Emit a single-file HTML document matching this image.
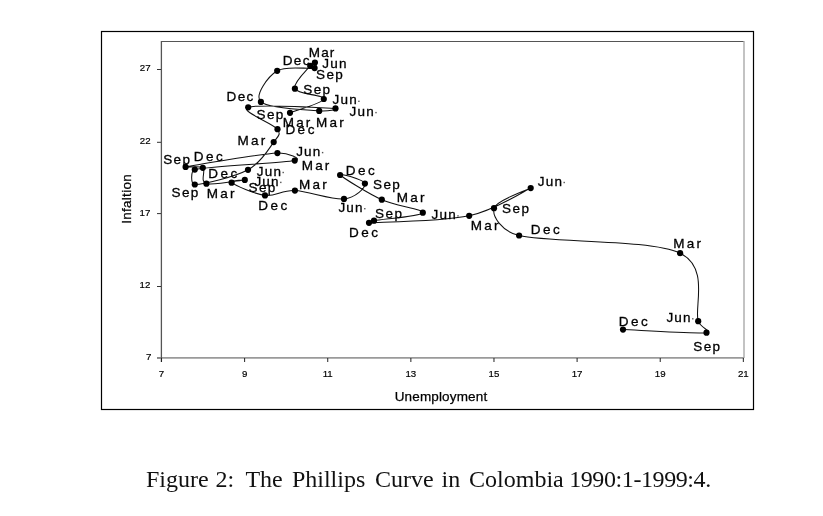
<!DOCTYPE html>
<html><head><meta charset="utf-8"><style>
html,body{margin:0;padding:0;background:#fff;width:823px;height:516px;overflow:hidden}
svg{position:absolute;left:0;top:0;will-change:transform}
.lb{font-family:"Liberation Sans",sans-serif;font-size:13.5px;fill:#000;stroke:#000;stroke-width:0.3px}
.tk{font-family:"Liberation Sans",sans-serif;font-size:9.7px;fill:#000;stroke:#000;stroke-width:0.2px}
.ax{font-family:"Liberation Sans",sans-serif;font-size:13.5px;fill:#000;stroke:#000;stroke-width:0.25px}
.cap{font-family:"Liberation Serif",serif;font-size:24px;fill:#111}
</style></head><body>
<svg width="823" height="516" viewBox="0 0 823 516">

<rect x="101.5" y="31.5" width="652" height="378" fill="none" stroke="#000" stroke-width="1.2"/>
<line x1="161" y1="41.5" x2="744" y2="41.5" stroke="#555" stroke-width="1.2"/>
<line x1="744.0" y1="41" x2="744.0" y2="358" stroke="#aaa" stroke-width="1.4"/>
<line x1="157" y1="357.9" x2="744" y2="357.9" stroke="#9a9a9a" stroke-width="1.8"/>
<line x1="161.4" y1="41" x2="161.4" y2="362" stroke="#555" stroke-width="1.3"/>
<line x1="157" y1="357.90" x2="161" y2="357.90" stroke="#888" stroke-width="1.8"/>
<text class="tk" x="151.30" y="359.80" text-anchor="end">7</text>
<line x1="157" y1="286.50" x2="161" y2="286.50" stroke="#333" stroke-width="1"/>
<text class="tk" x="150.40" y="288.00" text-anchor="end">12</text>
<line x1="157" y1="213.60" x2="161" y2="213.60" stroke="#333" stroke-width="1"/>
<text class="tk" x="150.40" y="215.90" text-anchor="end">17</text>
<line x1="157" y1="142.30" x2="161" y2="142.30" stroke="#333" stroke-width="1"/>
<text class="tk" x="150.60" y="143.90" text-anchor="end">22</text>
<line x1="157" y1="69.50" x2="161" y2="69.50" stroke="#333" stroke-width="1"/>
<text class="tk" x="150.60" y="70.90" text-anchor="end">27</text>
<line x1="161.50" y1="358" x2="161.50" y2="362" stroke="#222" stroke-width="1"/>
<text class="tk" x="161.50" y="377.0" text-anchor="middle">7</text>
<line x1="244.62" y1="358" x2="244.62" y2="362" stroke="#222" stroke-width="1"/>
<text class="tk" x="244.62" y="377.0" text-anchor="middle">9</text>
<line x1="327.74" y1="358" x2="327.74" y2="362" stroke="#222" stroke-width="1"/>
<text class="tk" x="327.74" y="377.0" text-anchor="middle">11</text>
<line x1="410.86" y1="358" x2="410.86" y2="362" stroke="#222" stroke-width="1"/>
<text class="tk" x="410.86" y="377.0" text-anchor="middle">13</text>
<line x1="493.98" y1="358" x2="493.98" y2="362" stroke="#222" stroke-width="1"/>
<text class="tk" x="493.98" y="377.0" text-anchor="middle">15</text>
<line x1="577.10" y1="358" x2="577.10" y2="362" stroke="#222" stroke-width="1"/>
<text class="tk" x="577.10" y="377.0" text-anchor="middle">17</text>
<line x1="660.22" y1="358" x2="660.22" y2="362" stroke="#222" stroke-width="1"/>
<text class="tk" x="660.22" y="377.0" text-anchor="middle">19</text>
<line x1="743.34" y1="358" x2="743.34" y2="362" stroke="#222" stroke-width="1"/>
<text class="tk" x="743.34" y="377.0" text-anchor="middle">21</text>
<text class="ax" x="441.0" y="400.8" text-anchor="middle" style="letter-spacing:0.15px">Unemployment</text>
<text class="ax" transform="translate(131.3,198.9) rotate(-90)" text-anchor="middle" style="letter-spacing:0.28px">Infaltion</text>
<path d="M290.00,112.80 C295.63,110.50 322.98,103.02 323.80,99.00 C324.62,94.98 297.17,94.22 294.90,88.70 C292.63,83.18 306.87,70.25 310.20,65.90 C311.95,63.62 314.17,62.23 314.90,62.60 C315.63,62.97 317.29,67.51 314.60,68.10 C308.32,69.47 286.15,65.17 277.20,70.80 C268.25,76.43 253.90,95.22 260.90,101.90 C267.90,108.58 306.77,109.82 319.20,110.90 C327.41,111.62 343.73,108.82 335.50,108.40 C323.67,107.80 257.87,103.83 248.20,107.30 C238.53,110.77 273.25,123.40 277.50,129.20 C281.47,134.62 277.65,136.66 273.70,142.10 C268.78,148.87 261.15,162.73 248.00,169.80 C234.85,176.87 203.67,184.53 194.80,184.50 C190.54,184.48 190.66,170.59 194.80,169.60 C211.45,165.62 280.93,163.35 294.70,160.60 C303.95,158.75 286.81,152.56 277.40,153.10 C259.22,154.15 198.03,164.45 185.60,166.90 C177.15,168.56 199.33,165.00 202.80,167.80 C206.27,170.60 199.40,181.68 206.40,183.70 C213.40,185.72 240.60,180.07 244.80,179.90 C249.00,179.73 228.23,180.12 231.60,182.70 C234.97,185.28 254.45,194.08 265.00,195.40 C275.55,196.72 281.73,190.02 294.90,190.60 C308.07,191.18 332.33,200.07 344.00,198.90 C355.67,197.73 365.55,187.58 364.90,183.60 C364.25,179.62 337.28,172.32 340.10,175.00 C342.92,177.68 368.02,193.42 381.80,199.70 C395.58,205.98 424.10,209.20 422.80,212.70 C421.50,216.20 382.97,219.02 374.00,220.70 C371.34,221.20 366.29,222.94 369.00,222.80 C384.87,221.98 442.25,221.58 469.20,215.80 C496.15,210.02 526.57,189.37 530.70,188.10 C534.83,186.83 495.93,200.30 494.00,208.20 C492.07,216.10 501.08,231.14 519.10,235.50 C550.12,243.00 650.25,238.92 680.10,253.20 C709.95,267.48 693.80,307.95 698.20,321.20 C700.43,327.93 713.55,331.91 706.50,332.70 C693.97,334.10 636.92,330.12 623.00,329.60" fill="none" stroke="#111" stroke-width="1.05"/>
<circle cx="290.00" cy="112.80" r="3.1" fill="#000"/>
<circle cx="323.80" cy="99.00" r="3.1" fill="#000"/>
<circle cx="294.90" cy="88.70" r="3.1" fill="#000"/>
<circle cx="310.20" cy="65.90" r="3.1" fill="#000"/>
<circle cx="314.90" cy="62.60" r="3.1" fill="#000"/>
<circle cx="314.60" cy="68.10" r="3.1" fill="#000"/>
<circle cx="277.20" cy="70.80" r="3.1" fill="#000"/>
<circle cx="260.90" cy="101.90" r="3.1" fill="#000"/>
<circle cx="319.20" cy="110.90" r="3.1" fill="#000"/>
<circle cx="335.50" cy="108.40" r="3.1" fill="#000"/>
<circle cx="248.20" cy="107.30" r="3.1" fill="#000"/>
<circle cx="277.50" cy="129.20" r="3.1" fill="#000"/>
<circle cx="273.70" cy="142.10" r="3.1" fill="#000"/>
<circle cx="248.00" cy="169.80" r="3.1" fill="#000"/>
<circle cx="194.80" cy="184.50" r="3.1" fill="#000"/>
<circle cx="194.80" cy="169.60" r="3.1" fill="#000"/>
<circle cx="294.70" cy="160.60" r="3.1" fill="#000"/>
<circle cx="277.40" cy="153.10" r="3.1" fill="#000"/>
<circle cx="185.60" cy="166.90" r="3.1" fill="#000"/>
<circle cx="202.80" cy="167.80" r="3.1" fill="#000"/>
<circle cx="206.40" cy="183.70" r="3.1" fill="#000"/>
<circle cx="244.80" cy="179.90" r="3.1" fill="#000"/>
<circle cx="231.60" cy="182.70" r="3.1" fill="#000"/>
<circle cx="265.00" cy="195.40" r="3.1" fill="#000"/>
<circle cx="294.90" cy="190.60" r="3.1" fill="#000"/>
<circle cx="344.00" cy="198.90" r="3.1" fill="#000"/>
<circle cx="364.90" cy="183.60" r="3.1" fill="#000"/>
<circle cx="340.10" cy="175.00" r="3.1" fill="#000"/>
<circle cx="381.80" cy="199.70" r="3.1" fill="#000"/>
<circle cx="422.80" cy="212.70" r="3.1" fill="#000"/>
<circle cx="374.00" cy="220.70" r="3.1" fill="#000"/>
<circle cx="369.00" cy="222.80" r="3.1" fill="#000"/>
<circle cx="469.20" cy="215.80" r="3.1" fill="#000"/>
<circle cx="530.70" cy="188.10" r="3.1" fill="#000"/>
<circle cx="494.00" cy="208.20" r="3.1" fill="#000"/>
<circle cx="519.10" cy="235.50" r="3.1" fill="#000"/>
<circle cx="680.10" cy="253.20" r="3.1" fill="#000"/>
<circle cx="698.20" cy="321.20" r="3.1" fill="#000"/>
<circle cx="706.50" cy="332.70" r="3.1" fill="#000"/>
<circle cx="623.00" cy="329.60" r="3.1" fill="#000"/>
<text class="lb" x="308.69" y="56.80" style="letter-spacing:1.2px">Mar</text>
<text class="lb" x="282.79" y="64.80" style="letter-spacing:1.3px">Dec</text>
<text class="lb" x="322.28" y="67.80" style="letter-spacing:1.2px">Jun</text>
<text class="lb" x="315.99" y="78.90" style="letter-spacing:1.4px">Sep</text>
<text class="lb" x="303.29" y="94.00" style="letter-spacing:1.4px">Sep</text>
<text class="lb" x="332.48" y="104.40" style="letter-spacing:1.2px">Jun</text>
<rect x="358.20" y="100.60" width="1.4" height="1.4" fill="#555"/>
<text class="lb" x="226.59" y="100.70" style="letter-spacing:1.3px">Dec</text>
<text class="lb" x="349.58" y="115.70" style="letter-spacing:1.2px">Jun</text>
<rect x="375.30" y="111.90" width="1.4" height="1.4" fill="#555"/>
<text class="lb" x="256.49" y="119.40" style="letter-spacing:1.4px">Sep</text>
<text class="lb" x="282.69" y="126.80" style="letter-spacing:2.2px">Mar</text>
<text class="lb" x="316.09" y="126.80" style="letter-spacing:2.2px">Mar</text>
<text class="lb" x="285.39" y="134.30" style="letter-spacing:2.5px">Dec</text>
<text class="lb" x="237.49" y="144.80" style="letter-spacing:2.2px">Mar</text>
<text class="lb" x="296.18" y="155.70" style="letter-spacing:1.2px">Jun</text>
<rect x="321.90" y="151.90" width="1.4" height="1.4" fill="#555"/>
<text class="lb" x="301.69" y="169.60" style="letter-spacing:2.2px">Mar</text>
<text class="lb" x="163.19" y="164.40" style="letter-spacing:1.4px">Sep</text>
<text class="lb" x="193.69" y="160.60" style="letter-spacing:2.5px">Dec</text>
<text class="lb" x="208.29" y="177.50" style="letter-spacing:2.5px">Dec</text>
<text class="lb" x="256.78" y="175.60" style="letter-spacing:1.2px">Jun</text>
<rect x="282.50" y="171.80" width="1.4" height="1.4" fill="#555"/>
<text class="lb" x="254.38" y="185.50" style="letter-spacing:1.2px">Jun</text>
<rect x="280.10" y="181.70" width="1.4" height="1.4" fill="#555"/>
<text class="lb" x="248.49" y="191.60" style="letter-spacing:1.4px">Sep</text>
<text class="lb" x="171.49" y="197.40" style="letter-spacing:1.4px">Sep</text>
<text class="lb" x="206.79" y="197.90" style="letter-spacing:2.2px">Mar</text>
<text class="lb" x="298.99" y="188.60" style="letter-spacing:2.2px">Mar</text>
<text class="lb" x="258.29" y="209.60" style="letter-spacing:2.5px">Dec</text>
<text class="lb" x="345.69" y="175.40" style="letter-spacing:2.5px">Dec</text>
<text class="lb" x="372.99" y="188.50" style="letter-spacing:1.4px">Sep</text>
<text class="lb" x="396.79" y="201.50" style="letter-spacing:2.2px">Mar</text>
<text class="lb" x="338.38" y="211.80" style="letter-spacing:1.2px">Jun</text>
<rect x="364.10" y="208.00" width="1.4" height="1.4" fill="#555"/>
<text class="lb" x="375.09" y="218.10" style="letter-spacing:1.4px">Sep</text>
<text class="lb" x="348.99" y="237.20" style="letter-spacing:2.5px">Dec</text>
<text class="lb" x="431.58" y="219.00" style="letter-spacing:1.2px">Jun</text>
<rect x="457.30" y="215.20" width="1.4" height="1.4" fill="#555"/>
<text class="lb" x="470.79" y="230.40" style="letter-spacing:2.2px">Mar</text>
<text class="lb" x="502.09" y="213.40" style="letter-spacing:1.4px">Sep</text>
<text class="lb" x="537.78" y="185.60" style="letter-spacing:1.2px">Jun</text>
<rect x="563.50" y="181.80" width="1.4" height="1.4" fill="#555"/>
<text class="lb" x="530.79" y="234.00" style="letter-spacing:2.5px">Dec</text>
<text class="lb" x="673.29" y="247.90" style="letter-spacing:2.2px">Mar</text>
<text class="lb" x="666.38" y="321.90" style="letter-spacing:1.2px">Jun</text>
<rect x="692.10" y="318.10" width="1.4" height="1.4" fill="#555"/>
<text class="lb" x="618.79" y="325.50" style="letter-spacing:2.5px">Dec</text>
<text class="lb" x="693.29" y="350.90" style="letter-spacing:1.4px">Sep</text>
<text class="cap" x="146.00" y="486.6">Figure</text>
<text class="cap" x="215.50" y="486.6">2:</text>
<text class="cap" x="245.40" y="486.6">The</text>
<text class="cap" x="291.90" y="486.6">Phillips</text>
<text class="cap" x="375.00" y="486.6">Curve</text>
<text class="cap" x="441.50" y="486.6">in</text>
<text class="cap" x="469.10" y="486.6">Colombia</text>
<text class="cap" x="569.2" y="486.6" letter-spacing="-0.41">1990:1-1999:4.</text>
</svg>
</body></html>
